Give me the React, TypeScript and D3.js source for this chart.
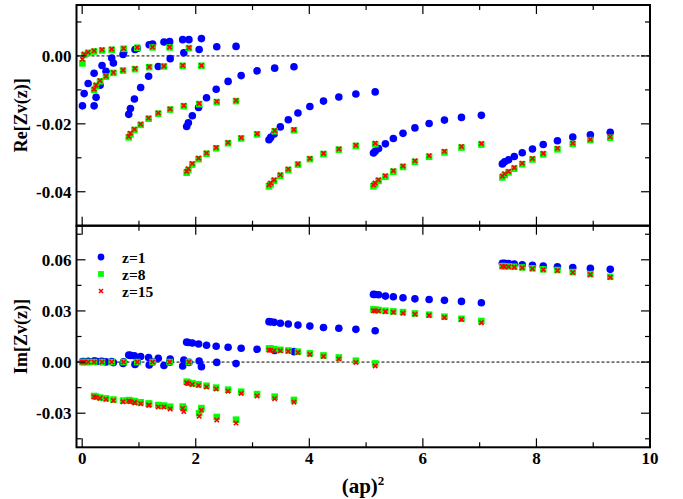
import React from "react";
import * as d3 from "d3";

// (ap)^2 values, 7 branches of 11 points each
const xVals = [
  0.005, 0.035, 0.105, 0.21, 0.35, 0.52, 0.73, 0.97, 1.24, 1.54, 1.88,
  0.21, 0.245, 0.315, 0.42, 0.55, 0.72, 0.93, 1.18, 1.44, 1.77, 2.1,
  0.82, 0.85, 0.92, 1.03, 1.17, 1.34, 1.55, 1.79, 2.06, 2.37, 2.71,
  1.84, 1.87, 1.94, 2.05, 2.19, 2.36, 2.57, 2.8, 3.08, 3.39, 3.73,
  3.29, 3.32, 3.38, 3.49, 3.63, 3.8, 4.01, 4.25, 4.52, 4.82, 5.16,
  5.13, 5.16, 5.22, 5.34, 5.48, 5.65, 5.86, 6.11, 6.38, 6.68, 7.03,
  7.4, 7.44, 7.51, 7.61, 7.75, 7.93, 8.12, 8.37, 8.64, 8.95, 9.3,
];

const reZ1 = [
  -0.0147, -0.0111, -0.0081, -0.0051, -0.0028, -0.0006, 0.001, 0.0022, 0.0035, 0.0042, 0.0048,
  -0.0147, -0.0122, -0.0086, -0.0045, -0.0021, 0.0004, 0.0019, 0.0033, 0.0041, 0.0048, 0.0051,
  -0.0172, -0.0155, -0.0127, -0.0093, -0.006, -0.0031, -0.0008, 0.0009, 0.0019, 0.0027, 0.0028,
  -0.0208, -0.0197, -0.0176, -0.0152, -0.0123, -0.0098, -0.0075, -0.0058, -0.0044, -0.0036, -0.0032,
  -0.0247, -0.024, -0.023, -0.0209, -0.0188, -0.0168, -0.0149, -0.0133, -0.0121, -0.0112, -0.0106,
  -0.0286, -0.0281, -0.0273, -0.0259, -0.0243, -0.0228, -0.0212, -0.0199, -0.0189, -0.0181, -0.0175,
  -0.0318, -0.0312, -0.0306, -0.0296, -0.0285, -0.0274, -0.0261, -0.025, -0.0239, -0.0232, -0.0225,
];
const reZ8 = [
  -0.0022, 0.0003, 0.0009, 0.0013, 0.0016, 0.0018, 0.0021, 0.0024, 0.0025, 0.0025, 0.0023,
  -0.01, -0.0088, -0.0075, -0.0061, -0.005, -0.0043, -0.0039, -0.0033, -0.0031, -0.0029, -0.0029,
  -0.024, -0.0231, -0.0218, -0.0203, -0.0185, -0.017, -0.0158, -0.0148, -0.0142, -0.0136, -0.0133,
  -0.0344, -0.0336, -0.032, -0.0304, -0.0288, -0.0272, -0.0257, -0.0243, -0.0231, -0.0222, -0.0219,
  -0.0384, -0.0378, -0.0368, -0.0353, -0.0336, -0.032, -0.0304, -0.0289, -0.0276, -0.0265, -0.026,
  -0.0384, -0.0378, -0.0368, -0.0356, -0.0341, -0.0327, -0.0312, -0.0297, -0.0284, -0.027, -0.0261,
  -0.0358, -0.0351, -0.0343, -0.0332, -0.0319, -0.0305, -0.029, -0.0275, -0.0259, -0.0248, -0.0241,
];
const reZ15 = [
  -0.001, 0.0005, 0.0011, 0.0015, 0.0018, 0.002, 0.0022, 0.0025, 0.0026, 0.0026, 0.0024,
  -0.0098, -0.0086, -0.0073, -0.006, -0.0049, -0.0042, -0.0037, -0.0032, -0.003, -0.0028, -0.0028,
  -0.0237, -0.0228, -0.0216, -0.0201, -0.0183, -0.0168, -0.0156, -0.0146, -0.014, -0.0134, -0.0131,
  -0.034, -0.0332, -0.0317, -0.0301, -0.0286, -0.027, -0.0255, -0.0241, -0.0229, -0.022, -0.0217,
  -0.038, -0.0374, -0.0365, -0.035, -0.0333, -0.0318, -0.0302, -0.0287, -0.0274, -0.0263, -0.0257,
  -0.038, -0.0374, -0.0365, -0.0353, -0.0338, -0.0324, -0.0309, -0.0294, -0.0281, -0.0267, -0.0258,
  -0.0354, -0.0347, -0.034, -0.0329, -0.0316, -0.0302, -0.0287, -0.0272, -0.0257, -0.0246, -0.0238,
];

const imZ1 = [
  0.0003, 0.0003, 0.0004, 0.0005, 0.0004, 0.0003, 0.0002, 0.0001, 0.0, -0.0001, -0.0002,
  0.0006, 0.0005, 0.0003, 0.0001, -0.0003, -0.0008, -0.0014, -0.0017, -0.002, -0.0023, -0.0027,
  0.0041, 0.0039, 0.0037, 0.0033, 0.0027, 0.0022, 0.0018, 0.0012, 0.0006, -0.0002, -0.0009,
  0.0117, 0.0115, 0.0112, 0.0106, 0.0099, 0.0093, 0.0087, 0.0081, 0.0075, 0.0068, 0.0061,
  0.0237, 0.0236, 0.0233, 0.0228, 0.0223, 0.0217, 0.0211, 0.0203, 0.0198, 0.0192, 0.0184,
  0.0397, 0.0396, 0.0395, 0.0387, 0.0383, 0.0377, 0.0371, 0.0367, 0.0362, 0.0356, 0.0348,
  0.058, 0.0579, 0.0578, 0.0575, 0.0571, 0.0567, 0.0563, 0.0559, 0.0555, 0.055, 0.0544,
];
const imZ8 = [
  0.0, 0.0, 0.0, 0.0, 0.0, 0.0, 0.0, 0.0, 0.0, 0.0, 0.0,
  -0.0199, -0.0203, -0.0208, -0.0213, -0.022, -0.0226, -0.0232, -0.0245, -0.0255, -0.0261, -0.027,
  -0.0223, -0.0226, -0.0229, -0.0236, -0.0243, -0.0252, -0.0262, -0.0272, -0.03, -0.0322, -0.0338,
  -0.0115, -0.012, -0.0125, -0.013, -0.0139, -0.015, -0.0162, -0.0174, -0.0188, -0.0203, -0.0222,
  0.008, 0.0079, 0.0076, 0.0072, 0.0068, 0.0061, 0.0051, 0.0039, 0.0027, 0.0008, -0.0008,
  0.0309, 0.0308, 0.0305, 0.0301, 0.0297, 0.0293, 0.0285, 0.0278, 0.0266, 0.0254, 0.0241,
  0.0563, 0.0562, 0.0561, 0.0559, 0.0555, 0.055, 0.0544, 0.054, 0.0528, 0.0516, 0.05,
];
const imZ15 = [
  0.0, 0.0, 0.0, 0.0, 0.0, 0.0, 0.0, 0.0, 0.0, 0.0, 0.0,
  -0.0203, -0.0207, -0.0212, -0.0218, -0.0226, -0.0233, -0.024, -0.0253, -0.0264, -0.0272, -0.0283,
  -0.0228, -0.0232, -0.0236, -0.0244, -0.0253, -0.0263, -0.0275, -0.029, -0.0318, -0.034, -0.0358,
  -0.0122, -0.0126, -0.0131, -0.0137, -0.0146, -0.0158, -0.0171, -0.0184, -0.0199, -0.0215, -0.0235,
  0.007, 0.0069, 0.0067, 0.0066, 0.0063, 0.0056, 0.0045, 0.0033, 0.0018, -0.0002, -0.0023,
  0.0301, 0.03, 0.0299, 0.0296, 0.0292, 0.0287, 0.0281, 0.0274, 0.0262, 0.025, 0.0231,
  0.0561, 0.056, 0.0559, 0.0557, 0.0553, 0.0548, 0.0542, 0.0537, 0.0525, 0.0513, 0.0497,
];

const xMajor = [0, 2, 4, 6, 8, 10];
const xMinor = [1, 3, 5, 7, 9];
const reMajor = [0.0, -0.02, -0.04];
const reMinor = [0.01, -0.01, -0.03, -0.05];
const imMajor = [0.06, 0.03, 0.0, -0.03];
const imMinor = [0.075, 0.045, 0.015, -0.015, -0.045];
const legendLabels = ["z=1", "z=8", "z=15"];

const FONT = "'Liberation Serif', 'Times New Roman', serif";
const BLUE = "#0000ff";
const GREEN = "#00ff00";
const RED = "#ff0000";

const xScale = d3.scaleLinear().domain([-0.1, 10]).range([76.5, 650]);
const yRe = d3.scaleLinear().domain([-0.05, 0.015]).range([225.7, 5]);
const yIm = d3.scaleLinear().domain([-0.05, 0.08]).range([447.3, 225.7]);

const fmt = (v: number) => (Math.abs(v) < 1e-9 ? "0.00" : v.toFixed(2));

const Circle = ({ x, y, r = 3.8 }: any) => <circle cx={x} cy={y} r={r} fill={BLUE} />;
const Square = ({ x, y, s = 6.6 }: any) => (
  <rect x={x - s / 2} y={y - s / 2} width={s} height={s} fill={GREEN} />
);
const Cross = ({ x, y, h = 2.2 }: any) => (
  <path
    d={`M${x - h},${y - h}L${x + h},${y + h}M${x - h},${y + h}L${x + h},${y - h}`}
    stroke={RED}
    strokeWidth={1.6}
  />
);

const Panel = ({ yScale, major, minor, v1, v8, v15, showX }: any) => {
  const [x0, x1] = xScale.range();
  const [yb, yt] = yScale.range();
  const tickStroke = { stroke: "#000", strokeWidth: 1.2 };
  return (
    <g>
      <line
        x1={x0}
        x2={x1}
        y1={yScale(0)}
        y2={yScale(0)}
        stroke="#000"
        strokeWidth={1}
        strokeDasharray="3,2"
      />
      {xVals.map((x, i) => (
        <Circle key={"c" + i} x={xScale(x)} y={yScale(v1[i])} />
      ))}
      {xVals.map((x, i) => (
        <Square key={"s" + i} x={xScale(x)} y={yScale(v8[i])} />
      ))}
      {xVals.map((x, i) => (
        <Cross key={"x" + i} x={xScale(x)} y={yScale(v15[i])} />
      ))}
      {xMajor.map((t) => (
        <g key={"xm" + t} {...tickStroke}>
          <line x1={xScale(t)} x2={xScale(t)} y1={yb} y2={yb - 9} />
          <line x1={xScale(t)} x2={xScale(t)} y1={yt} y2={yt + 9} />
        </g>
      ))}
      {xMinor.map((t) => (
        <g key={"xn" + t} {...tickStroke}>
          <line x1={xScale(t)} x2={xScale(t)} y1={yb} y2={yb - 5} />
          <line x1={xScale(t)} x2={xScale(t)} y1={yt} y2={yt + 5} />
        </g>
      ))}
      {major.map((t: number) => (
        <g key={"ym" + t}>
          <g {...tickStroke}>
            <line x1={x0} x2={x0 + 9} y1={yScale(t)} y2={yScale(t)} />
            <line x1={x1} x2={x1 - 9} y1={yScale(t)} y2={yScale(t)} />
          </g>
          <text
            x={x0 - 5}
            y={yScale(t) + 6}
            textAnchor="end"
            fontFamily={FONT}
            fontWeight="bold"
            fontSize={17}
          >
            {fmt(t)}
          </text>
        </g>
      ))}
      {minor.map((t: number) => (
        <g key={"yn" + t} {...tickStroke}>
          <line x1={x0} x2={x0 + 5} y1={yScale(t)} y2={yScale(t)} />
          <line x1={x1} x2={x1 - 5} y1={yScale(t)} y2={yScale(t)} />
        </g>
      ))}
      {showX &&
        xMajor.map((t) => (
          <text
            key={"xl" + t}
            x={xScale(t)}
            y={yb + 17}
            textAnchor="middle"
            fontFamily={FONT}
            fontWeight="bold"
            fontSize={17}
          >
            {t}
          </text>
        ))}
      <rect
        x={x0}
        y={yt}
        width={x1 - x0}
        height={yb - yt}
        fill="none"
        stroke="#000"
        strokeWidth={2}
      />
    </g>
  );
};

export default function App() {
  const lx = 101;
  const ly = [257, 274, 291];
  return (
    <svg
      width={683}
      height={499}
      style={{ position: "absolute", left: 0, top: 0, background: "#fff" }}
    >
      <Panel yScale={yRe} major={reMajor} minor={reMinor} v1={reZ1} v8={reZ8} v15={reZ15} />
      <Panel
        yScale={yIm}
        major={imMajor}
        minor={imMinor}
        v1={imZ1}
        v8={imZ8}
        v15={imZ15}
        showX
      />
      {/* legend */}
      <Circle x={lx} y={ly[0]} r={3.4} />
      <Square x={lx} y={ly[1]} s={5.8} />
      <Cross x={lx} y={ly[2]} h={2} />
      {legendLabels.map((l, i) => (
        <text
          key={l}
          x={122}
          y={ly[i] + 5.5}
          fontFamily={FONT}
          fontWeight="bold"
          fontSize={15.5}
        >
          {l}
        </text>
      ))}
      <text
        transform={`translate(27,${(yRe(0.015) + yRe(-0.05)) / 2}) rotate(-90)`}
        textAnchor="middle"
        fontFamily={FONT}
        fontWeight="bold"
        fontSize={18}
      >
        Re[Zv(z)]
      </text>
      <text
        transform={`translate(27,${(yIm(0.08) + yIm(-0.05)) / 2}) rotate(-90)`}
        textAnchor="middle"
        fontFamily={FONT}
        fontWeight="bold"
        fontSize={18}
      >
        Im[Zv(z)]
      </text>
      <text x={363} y={493} textAnchor="middle" fontFamily={FONT} fontWeight="bold" fontSize={21}>
        (ap)
        <tspan dy={-8} fontSize={13}>
          2
        </tspan>
      </text>
    </svg>
  );
}
